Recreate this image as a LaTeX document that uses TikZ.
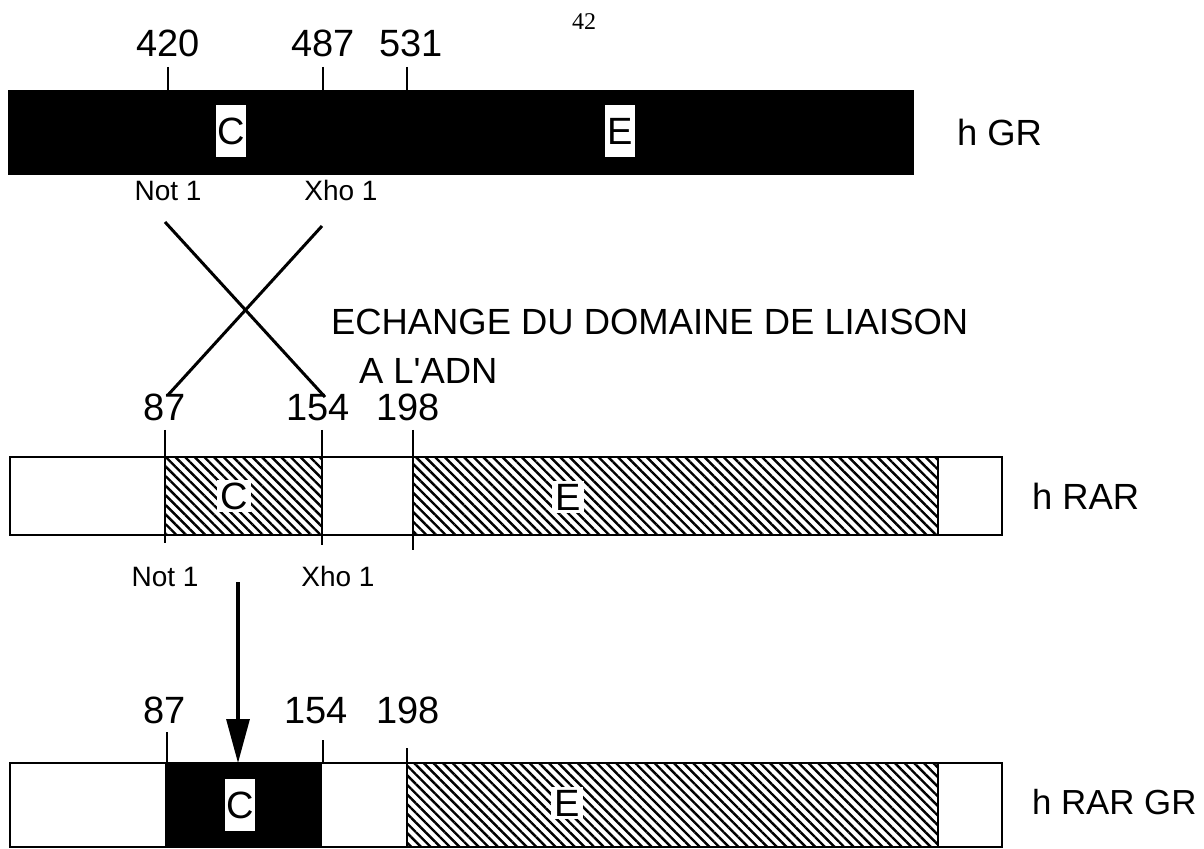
\documentclass[tikz,border=0pt]{standalone}
\usepackage{fontspec}
\setmainfont{Liberation Sans}
\newfontfamily\pagefont{Liberation Serif}
\usetikzlibrary{arrows.meta, patterns.meta}

\begin{document}
\begin{tikzpicture}[x=0.5pt, y=-0.5pt,
    num/.style={font=\fontsize{19}{19}\selectfont, anchor=base},
    enz/.style={font=\fontsize{14}{14}\selectfont, anchor=base},
    big/.style={font=\fontsize{18.2}{18.2}\selectfont, anchor=base west},
    dom/.style={fill=white, inner sep=0pt, minimum width=15pt, minimum height=26pt, font=\fontsize{19}{19}\selectfont},
    rdom/.style={fill=white, inner sep=1.5pt, font=\fontsize{19}{19}\selectfont},
    hat/.style={pattern={Lines[angle=-45, distance=3.4pt, line width=1.2pt]}},
    tk/.style={line width=1pt},
    box/.style={draw, line width=1.2pt},
    cross/.style={line width=1.5pt}
  ]
\useasboundingbox (0,0) rectangle (1204,849);
\node[font=\pagefont\fontsize{12}{12}\selectfont] (pg) at (584,22) {42};

% h GR
\fill (8,90) rectangle (914,175);
\foreach \x/\n/\lx in {168/420/168, 323/487/323, 407/531/411} {
  \draw[tk] (\x,67) -- (\x,90);
  \node[num] (g\n) at (\lx,57) {\n};
}
\node[dom] (gC) at (231,131) {C};
\node[dom] (gE) at (620,131) {E};
\node[big, anchor=west] (gR) at (950,132) {h GR};
\node[enz] (gNot) at (168,201) {Not 1};
\node[enz] (gXho) at (341,201) {Xho 1};

% echange
\coordinate (xa) at (165,222); \coordinate (xb) at (325,397);
\coordinate (xc) at (322,226); \coordinate (xd) at (168,395);
\draw[cross] (xa) -- (xb); \draw[cross] (xc) -- (xd);
\node[big] (ech) at (324,335) {ECHANGE DU DOMAINE DE LIAISON};
\node[big] (adn) at (352,384) {A L\textquotesingle ADN};

% h RAR
\fill[hat] (165,457) rectangle (322,535);
\fill[hat] (413,457) rectangle (938,535);
\draw[box] (10,457) rectangle (1002,535);
\draw[box] (938,457) -- (938,535);
\foreach \x/\b/\n/\lx in {165/543/87/165, 322/545/154/318, 413/550/198/408} {
  \draw[tk] (\x,430) -- (\x,\b);
  \node[num] (r\n) at (\lx,421) {\n};
}
\node[rdom] (rC) at (234,496) {C};
\node[rdom] (rE) at (568,497) {E};
\node[big, anchor=west] (rR) at (1025,496) {h RAR};
\node[enz] (rNot) at (165,586) {Not 1};
\node[enz] (rXho) at (338,586) {Xho 1};

% h RAR GR
\fill[hat] (407,763) rectangle (938,847);
\fill (165,763) rectangle (322,847);
\draw[box] (10,763) rectangle (1002,847);
\draw[box] (938,763) -- (938,847);
\draw[tk] (407,763) -- (407,847);
\foreach \x/\t/\n/\lx in {167/732/87/165, 323/740/154/316, 407/748/198/408} {
  \draw[tk] (\x,\t) -- (\x,763);
  \node[num] (a\n) at (\lx,723) {\n};
}
\node[dom] (aC) at (240,805) {C};
\node[rdom] (aE) at (567,803) {E};
\node[big, anchor=west, font=\fontsize{17.4}{17.4}\selectfont] (aR) at (1025,802) {h RAR GR};

\coordinate (a0) at (238,582); \coordinate (a1) at (238,763);
\draw[-{Triangle[length=22pt, width=11.5pt]}, line width=1.6pt] (a0) -- (a1);
\end{tikzpicture}
\end{document}
